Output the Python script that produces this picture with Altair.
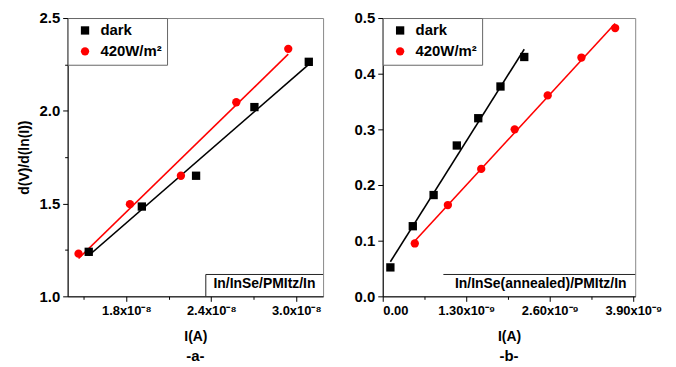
import altair as alt
import pandas as pd

FONT = "Liberation Sans"
series_names = ["dark", "420W/m²"]
series_colors = ["#000000", "#ff0000"]
series_shapes = ["square", "circle"]

# Panel a: In/InSe/PMItz/In
a_dark_x = [1.535e-8, 1.910e-8, 2.293e-8, 2.705e-8, 3.089e-8]
a_dark_y = [1.240, 1.484, 1.650, 2.020, 2.264]
a_light_x = [1.463e-8, 1.826e-8, 2.186e-8, 2.577e-8, 2.944e-8]
a_light_y = [1.230, 1.497, 1.650, 2.046, 2.334]

# Panel b: In/InSe(annealed)/PMItz/In
b_dark_x = [0.119e-9, 0.468e-9, 0.792e-9, 1.153e-9, 1.487e-9, 1.833e-9, 2.203e-9]
b_dark_y = [0.052, 0.126, 0.182, 0.271, 0.320, 0.377, 0.430]
b_light_x = [0.499e-9, 1.014e-9, 1.533e-9, 2.054e-9, 2.568e-9, 3.093e-9, 3.618e-9]
b_light_y = [0.095, 0.164, 0.229, 0.300, 0.361, 0.429, 0.482]

a_x_ticks = [1.5e-8, 1.8e-8, 2.1e-8, 2.4e-8, 2.7e-8, 3.0e-8]
a_y_ticks = [1.0, 1.25, 1.5, 1.75, 2.0, 2.25, 2.5]
b_x_ticks = [0.0, 0.65e-9, 1.30e-9, 1.95e-9, 2.60e-9, 3.25e-9, 3.90e-9]
b_y_ticks = [0.0, 0.05, 0.1, 0.15, 0.2, 0.25, 0.3, 0.35, 0.4, 0.45, 0.5]


def make_df(dx, dy, lx, ly):
    rows = [{"x": x, "y": y, "series": series_names[0]} for x, y in zip(dx, dy)]
    rows += [{"x": x, "y": y, "series": series_names[1]} for x, y in zip(lx, ly)]
    return pd.DataFrame(rows)


def minor_test(step):
    return f"abs(datum.value/{step} - round(datum.value/{step})) > 0.1"


def make_legend():
    return alt.Legend(orient="top-left", title=None, offset=0,
                      labelFont=FONT, labelFontSize=15,
                      labelFontWeight="bold", labelColor="black",
                      symbolSize=70, strokeColor="#666666",
                      fillColor="white", padding=5,
                      rowPadding=5, symbolOffset=5,
                      labelOffset=8)


def panel(df, xdom, xticks, xstep, xlab, ydom, yticks, ystep, ytitle, width,
          note, note_x, box_left, box_left_line, sub):
    height = 280
    color = alt.Color("series:N",
                      scale=alt.Scale(domain=series_names, range=series_colors),
                      legend=make_legend())
    shape = alt.Shape("series:N",
                      scale=alt.Scale(domain=series_names, range=series_shapes),
                      legend=make_legend())
    xt = minor_test(xstep)
    yt = minor_test(ystep)
    xaxis = alt.Axis(values=xticks, title="I(A)", grid=False,
                     labelExpr=f"{xt} ? '' : {xlab}",
                     tickSize={"condition": {"test": xt, "value": 3}, "value": 5},
                     labelFont=FONT, labelFontSize=13, labelFontWeight="bold",
                     labelPadding=3, titleFont=FONT, titleFontSize=14,
                     titleFontWeight="bold", titlePadding=12)
    yaxis_kw = dict(values=yticks, grid=False,
                    labelExpr=f"{yt} ? '' : format(datum.value, '.1f')",
                    tickSize={"condition": {"test": yt, "value": 3}, "value": 5},
                    labelFont=FONT, labelFontSize=15, labelFontWeight="bold",
                    labelPadding=3, titleFont=FONT, titleFontSize=14,
                    titleFontWeight="bold", titlePadding=8)
    if ytitle:
        yaxis = alt.Axis(title=ytitle, **yaxis_kw)
    else:
        yaxis = alt.Axis(title=None, **yaxis_kw)

    base = alt.Chart(df)
    x = alt.X("x:Q", scale=alt.Scale(domain=xdom, nice=False, zero=False), axis=xaxis)
    y = alt.Y("y:Q", scale=alt.Scale(domain=ydom, nice=False, zero=False), axis=yaxis)

    points = base.mark_point(filled=True, opacity=1, size=70).encode(
        x=x, y=y, color=color, shape=shape)
    layers = []
    for name, col in zip(series_names, series_colors):
        layers.append(
            base.transform_filter(alt.datum.series == name)
            .transform_regression("x", "y")
            .mark_line(strokeWidth=1.6, color=col)
            .encode(x="x:Q", y="y:Q"))
    layers.append(points)

    one = pd.DataFrame({"t": [note]})
    note_text = alt.Chart(one).mark_text(font=FONT, fontSize=14, fontWeight="bold",
                                         color="black").encode(
        x=alt.value(note_x), y=alt.value(268), text="t:N")
    top_line = alt.Chart(one).mark_rule(color="#222222", strokeWidth=1).encode(
        x=alt.value(box_left), x2=alt.value(width), y=alt.value(258))
    layers += [top_line, note_text]
    if box_left_line:
        left_line = alt.Chart(one).mark_rule(color="#222222", strokeWidth=1).encode(
            x=alt.value(box_left), y=alt.value(258), y2=alt.value(height))
        layers.append(left_line)

    return alt.layer(*layers).properties(
        width=width, height=height,
        title=alt.TitleParams(sub, orient="bottom", font=FONT, fontSize=15,
                              fontWeight="bold", offset=6))


df_a = make_df(a_dark_x, a_dark_y, a_light_x, a_light_y)
df_b = make_df(b_dark_x, b_dark_y, b_light_x, b_light_y)

pa = panel(df_a, [1.386e-8, 3.19e-8], a_x_ticks, 6e-9,
           "format(datum.value/1e-8, '.1f') + 'x10⁻⁸'",
           [1.0, 2.5], a_y_ticks, 0.5, "d(V)/d(ln(I))", 257,
           "In/InSe/PMItz/In", 198, 139, True, "-a-")
pb = panel(df_b, [0.0, 3.93e-9], b_x_ticks, 1.3e-9,
           "datum.value == 0 ? '0.00' : format(datum.value/1e-9, '.2f') + 'x10⁻⁹'",
           [0.0, 0.5], b_y_ticks, 0.1, None, 254,
           "In/InSe(annealed)/PMItz/In", 159, 61, False, "-b-")

chart = alt.hconcat(pa, pb, spacing=29).resolve_scale(
    color="independent", shape="independent").properties(
    padding={"left": 8, "top": 1, "right": 5, "bottom": 2},
    background="white").configure_view(
    stroke="#888888", strokeWidth=1).configure_axis(
    domainColor="black", tickColor="black", labelColor="black", titleColor="black")

chart.save("out.html", embed_options={"renderer": "svg", "actions": False})
